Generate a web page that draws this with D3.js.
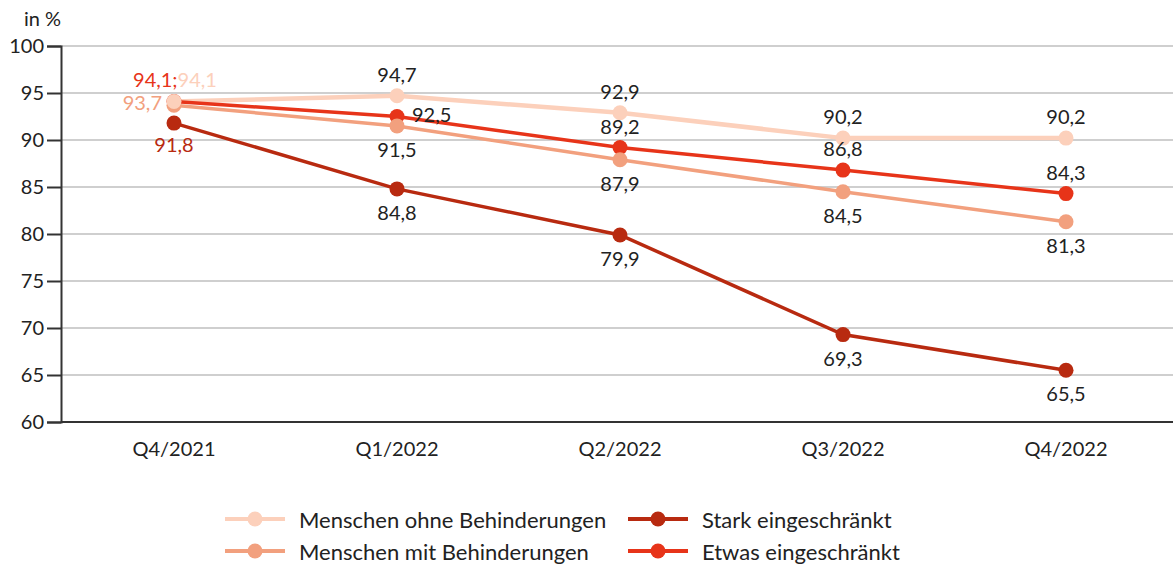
<!DOCTYPE html>
<html><head><meta charset="utf-8">
<script src="https://cdn.jsdelivr.net/npm/d3@7"></script>
<style>body{margin:0;background:#fff}svg{display:block}text{font-family:Lato,"Open Sans",sans-serif}</style>
</head><body>
<svg id="c" width="1173" height="566"></svg>
<script>
const categories = ["Q4/2021","Q1/2022","Q2/2022","Q3/2022","Q4/2022"];
const yTicks = [60,65,70,75,80,85,90,95,100];
const ohne  = [94.1, 94.7, 92.9, 90.2, 90.2];
const mit   = [93.7, 91.5, 87.9, 84.5, 81.3];
const stark = [91.8, 84.8, 79.9, 69.3, 65.5];
const etwas = [94.1, 92.5, 89.2, 86.8, 84.3];
const seriesNames = ["Menschen ohne Behinderungen","Menschen mit Behinderungen","Stark eingeschränkt","Etwas eingeschränkt"];
const colors = ["#FCD0BB","#F2A07E","#B82A10","#E73419"];

const svg = d3.select("#c");
const x = d3.scaleBand().domain(categories).range([62.5,1177.5]);
const y = d3.scaleLinear().domain([60,100]).range([422,46]);
const cx = c => x(c) + x.bandwidth()/2;

// grid
svg.append("g").selectAll("line").data(yTicks.filter(t=>t>60)).join("line")
  .attr("x1",61).attr("x2",1173).attr("y1",d=>y(d)).attr("y2",d=>y(d))
  .attr("stroke","#cfcfcf").attr("stroke-width",2);

// y axis
const ya = svg.append("g").attr("transform","translate(61,0)")
  .call(d3.axisLeft(y).tickValues(yTicks).tickSize(14).tickPadding(3));
ya.select(".domain").attr("stroke","#333").attr("stroke-width",2);
ya.selectAll(".tick line").attr("stroke","#333").attr("stroke-width",2);
ya.selectAll(".tick text").style("font-size","20px").style("fill","#222");

// x axis
const xa = svg.append("g").attr("transform","translate(0,422)")
  .call(d3.axisBottom(x).tickSize(0).tickPadding(20));
xa.select(".domain").attr("stroke","#333").attr("stroke-width",2).attr("d","M61,0H1173");
xa.selectAll(".tick text").style("font-size","20px").style("fill","#222");

svg.append("text").attr("x",24).attr("y",26).style("font-size","20px").style("fill","#222").text("in %");

const data = [ohne, mit, stark, etwas];
const order = [0,1,3,2];
const line = d3.line().x((d,i)=>cx(categories[i])).y(d=>y(d));
order.forEach(s=>{
  svg.append("path").attr("d",line(data[s])).attr("fill","none")
    .attr("stroke",colors[s]).attr("stroke-width",s===0?4.5:3.5);
});
[2,3,1,0].forEach(s=>{
  svg.append("g").selectAll("circle").data(data[s]).join("circle")
    .attr("cx",(d,i)=>cx(categories[i])).attr("cy",d=>y(d)).attr("r",7.5).attr("fill",colors[s]);
});

const fmt = v => d3.format(".1f")(v).replace(".",",");
const fs = "20px";
function lab(s,i,dx,dy,anchor,color){
  svg.append("text").attr("x",cx(categories[i])+dx).attr("y",y(data[s][i])+dy)
    .attr("text-anchor",anchor).attr("dominant-baseline","central")
    .style("font-size",fs).style("fill",color||"#222").text(fmt(data[s][i]));
}
const t0 = svg.append("text").attr("x",cx(categories[0])+1).attr("y",y(ohne[0])-22)
  .attr("text-anchor","middle").attr("dominant-baseline","central").style("font-size",fs);
t0.append("tspan").style("fill",colors[3]).text(fmt(etwas[0])+";");
t0.append("tspan").style("fill",colors[0]).text(fmt(ohne[0]));
lab(1,0,-12,-3,"end",colors[1]);
lab(2,0,0,21,"middle",colors[2]);
const above = [[0,1],[0,2],[0,3],[0,4],[3,2],[3,3],[3,4]];
const below = [[1,1],[1,2],[1,3],[1,4],[2,1],[2,2],[2,3],[2,4]];
above.forEach(([s,i])=>lab(s,i,0,-22,"middle"));
below.forEach(([s,i])=>lab(s,i,0,23,"middle"));
lab(3,1,15,-3,"start");

const legPos = [[225,519],[225,551],[628,519],[628,551]];
seriesNames.forEach((n,s)=>{
  const [lx,ly] = legPos[s];
  const g = svg.append("g");
  g.append("line").attr("x1",lx).attr("x2",lx+60).attr("y1",ly).attr("y2",ly)
    .attr("stroke",colors[s]).attr("stroke-width",4);
  g.append("circle").attr("cx",lx+30).attr("cy",ly).attr("r",7.5).attr("fill",colors[s]);
  g.append("text").attr("x",lx+74).attr("y",ly).attr("dominant-baseline","central")
    .style("font-size","22px").style("fill","#222").text(n);
});
</script>
</body></html>
